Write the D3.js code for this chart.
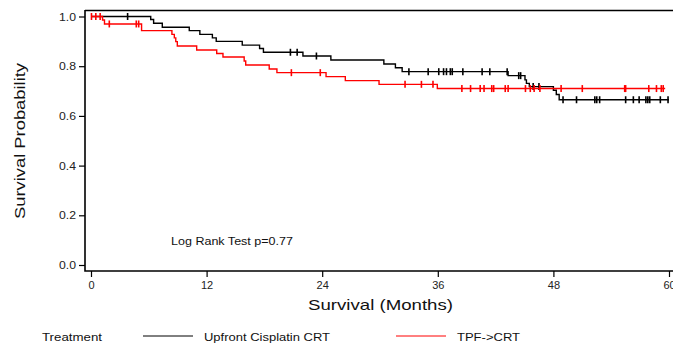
<!DOCTYPE html>
<html>
<head>
<meta charset="utf-8">
<script src="https://cdn.jsdelivr.net/npm/d3@7"></script>
<style>
  html, body { margin: 0; padding: 0; background: #fff; }
  svg { display: block; font-family: "Liberation Sans", Arial, sans-serif; }
</style>
</head>
<body>
<svg id="chart" width="673" height="346"></svg>
<script>
// Kaplan-Meier step points: [month, survival after the event]
const cisplatinSteps = [
  [0, 1.0], [6.2, 0.988], [6.5, 0.973], [7.4, 0.957], [10.2, 0.943], [11.3, 0.928],
  [12.6, 0.914], [13.0, 0.900], [15.7, 0.885], [17.5, 0.871], [17.9, 0.856],
  [22.0, 0.841], [24.9, 0.825], [30.4, 0.809], [31.6, 0.794], [32.3, 0.778],
  [43.3, 0.762], [45.05, 0.745], [45.2, 0.731], [45.5, 0.718], [48.0, 0.703],
  [48.3, 0.686], [48.6, 0.665]
];
const cisplatinCensored = [
  3.8, 20.7, 21.4, 23.4, 33.0, 35.0, 36.1, 36.6, 36.9, 37.3, 37.5, 38.6, 40.6,
  41.4, 43.2, 44.4, 44.6, 45.9, 46.5, 49.0, 50.4, 52.3, 52.5, 52.8, 55.5, 56.3,
  56.9, 57.6, 57.8, 58.0, 59.1, 59.9
];
const cisplatinEnd = 60;

const tpfSteps = [
  [0, 1.0], [1.2, 0.986], [1.4, 0.970], [5.25, 0.943], [8.4, 0.928], [8.65, 0.914],
  [8.8, 0.899], [8.96, 0.881], [10.97, 0.865], [13.05, 0.851], [13.7, 0.837],
  [15.9, 0.821], [16.06, 0.805], [18.5, 0.789], [19.3, 0.774], [24.4, 0.758],
  [26.4, 0.742], [29.9, 0.727], [35.95, 0.710]
];
const tpfCensored = [
  0.05, 0.5, 0.95, 1.9, 4.7, 4.95, 20.8, 23.8, 32.6, 34.3, 35.5, 38.5, 39.4,
  40.4, 40.8, 41.6, 41.8, 43.0, 43.3, 45.1, 45.6, 46.0, 46.6, 48.8, 51.0, 55.4,
  55.5, 57.9, 58.7, 59.2, 59.4
];
const tpfEnd = 59.6;

const xTicks = [0, 12, 24, 36, 48, 60];
const yTicks = [0.0, 0.2, 0.4, 0.6, 0.8, 1.0];
const seriesNames = ["Upfront Cisplatin CRT", "TPF->CRT"];
const seriesColors = ["#000000", "#ff0000"];

const svg = d3.select("#chart");
const x = d3.scaleLinear().domain([0, 60]).range([91, 669]);
const y = d3.scaleLinear().domain([0, 1]).range([265, 16.5]);

// wide-set text: stretch glyphs to a given run length
function wide(sel, len) {
  return sel.attr("textLength", len).attr("lengthAdjust", "spacingAndGlyphs");
}

// frame: left axis, bottom axis, top border
const frame = svg.append("g").attr("stroke", "#000").attr("stroke-width", 1.6).attr("fill", "none");
frame.append("path").attr("d", "M85,10.5 H673 M85,10 V271.5 M84.2,271 H673");

// y axis ticks
const yAxis = svg.append("g").attr("transform", "translate(85,0)")
  .call(d3.axisLeft(y).tickValues(yTicks).tickFormat(d3.format(".1f")).tickSize(6).tickPadding(3));
yAxis.select(".domain").remove();
yAxis.selectAll("line").attr("stroke-width", 1.2);
yAxis.selectAll("text").attr("font-size", 11).attr("fill", "#222")
  .attr("font-family", "Liberation Sans, Arial, sans-serif")
  .attr("textLength", 17).attr("lengthAdjust", "spacingAndGlyphs");

// x axis ticks
const xAxis = svg.append("g").attr("transform", "translate(0,271)")
  .call(d3.axisBottom(x).tickValues(xTicks).tickSize(6).tickPadding(4));
xAxis.select(".domain").remove();
xAxis.selectAll("line").attr("stroke-width", 1.2);
xAxis.selectAll("text").attr("font-size", 11).attr("fill", "#222")
  .attr("font-family", "Liberation Sans, Arial, sans-serif");

// axis titles
wide(svg.append("text").attr("x", 380.5).attr("y", 310).attr("text-anchor", "middle")
  .attr("font-size", 15).attr("fill", "#111").text("Survival (Months)"), 145);
wide(svg.append("text").attr("transform", "translate(25,141) rotate(-90)").attr("text-anchor", "middle")
  .attr("font-size", 15.5).attr("fill", "#111").text("Survival Probability"), 156);

// annotation
wide(svg.append("text").attr("x", 171).attr("y", 245).attr("font-size", 11).attr("fill", "#111")
  .text("Log Rank Test p=0.77"), 122);

function survivalAt(steps, t) {
  let s = 1;
  for (const [ti, si] of steps) { if (ti <= t) s = si; }
  return s;
}

function drawCurve(steps, censored, end, color) {
  const pts = steps.concat([[end, steps[steps.length - 1][1]]]);
  const line = d3.line().x(d => x(d[0])).y(d => y(d[1])).curve(d3.curveStepAfter);
  svg.append("path").datum(pts).attr("d", line)
    .attr("fill", "none").attr("stroke", color).attr("stroke-width", 1.4);
  svg.append("g").selectAll("line").data(censored).join("line")
    .attr("x1", d => x(d)).attr("x2", d => x(d))
    .attr("y1", d => y(survivalAt(steps, d)) - 3.5)
    .attr("y2", d => y(survivalAt(steps, d)) + 3.5)
    .attr("stroke", color).attr("stroke-width", 1.6);
}

drawCurve(cisplatinSteps, cisplatinCensored, cisplatinEnd, seriesColors[0]);
drawCurve(tpfSteps, tpfCensored, tpfEnd, seriesColors[1]);

// legend
const legend = svg.append("g").attr("font-size", 11).attr("fill", "#111");
wide(legend.append("text").attr("x", 42).attr("y", 341).text("Treatment"), 60);
const legendX = [143, 396];
const legendLen = [126, 63];
seriesNames.forEach((name, i) => {
  legend.append("line").attr("x1", legendX[i]).attr("x2", legendX[i] + 50)
    .attr("y1", 336).attr("y2", 336).attr("stroke", seriesColors[i]).attr("stroke-width", 1);
  wide(legend.append("text").attr("x", legendX[i] + 61).attr("y", 341).text(name), legendLen[i]);
});
</script>
</body>
</html>
